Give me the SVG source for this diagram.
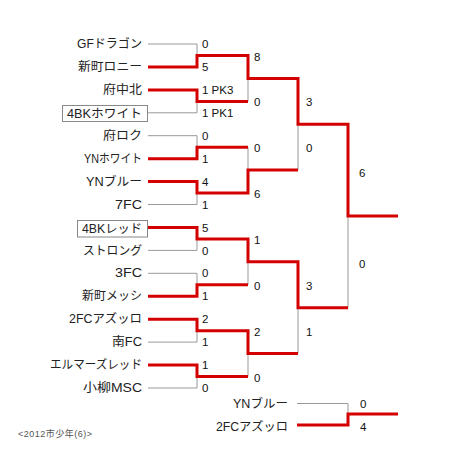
<svg xmlns="http://www.w3.org/2000/svg" width="450" height="450" viewBox="0 0 450 450">
<style>
.team{font-family:"Liberation Sans","Noto Sans CJK JP",sans-serif;font-size:12px;fill:#222;text-anchor:end}
.score{font-family:"Liberation Sans","Noto Sans CJK JP",sans-serif;font-size:11.5px;fill:#111}
.foot{font-family:"Liberation Sans","Noto Sans CJK JP",sans-serif;font-size:9px;fill:#555;letter-spacing:0.5px}
.grey{stroke:#999;stroke-width:1;fill:none}
.red{stroke:#d40000;stroke-width:3;fill:none;stroke-linejoin:miter}
.box{fill:#fff;stroke:#888;stroke-width:1}
</style>
<rect width="450" height="450" fill="#fff"/>
<g id="connectors">
<path class="grey" d="M148 44H197V66.9H148M148 89.9H197V112.8H148M148 135.7H197V158.7H148M148 181.6H197V204.5H148M148 227.4H197V250.4H148M148 273.3H197V296.2H148M148 319.2H197V342.1H148M148 365H197V388H148"/>
<path class="grey" d="M197 55.5H248V101.4H197M197 147.2H248V193.1H197M197 238.9H248V284.8H197M197 330.7H248V376.5H197"/>
<path class="grey" d="M248 78.4H298V170.1H248M248 261.8H298V353.6H248"/>
<path class="grey" d="M298 124.3H348V307.7H298M348 216H398"/>
<path class="grey" d="M297 403.5H348V425H297M348 414H398"/>
<path class="red" d="M148 66.9H197V55.5H248V78.4H298V124.3H348V216H398"/>
<path class="red" d="M148 89.9H197V101.4H248"/>
<path class="red" d="M148 158.7H197V147.2H248"/>
<path class="red" d="M148 181.6H197V193.1H248V170.1H298"/>
<path class="red" d="M148 227.4H197V238.9H248V261.8H298V307.7H348"/>
<path class="red" d="M148 296.2H197V284.8H248"/>
<path class="red" d="M148 319.2H197V330.7H248V353.6H298"/>
<path class="red" d="M148 365H197V376.5H248"/>
<path class="red" d="M297 425H348V414H398"/>
<g id="scores">
<text class="score" x="202" y="48">0</text>
<text class="score" x="202" y="71">5</text>
<text class="score" x="202" y="94">1 PK3</text>
<text class="score" x="202" y="117">1 PK1</text>
<text class="score" x="202" y="140">0</text>
<text class="score" x="202" y="163">1</text>
<text class="score" x="202" y="186">4</text>
<text class="score" x="202" y="209">1</text>
<text class="score" x="202" y="232">5</text>
<text class="score" x="202" y="255">0</text>
<text class="score" x="202" y="277">0</text>
<text class="score" x="202" y="300">1</text>
<text class="score" x="202" y="323">2</text>
<text class="score" x="202" y="346">1</text>
<text class="score" x="202" y="369">1</text>
<text class="score" x="202" y="392">0</text>
<text class="score" x="254" y="61">8</text>
<text class="score" x="254" y="106">0</text>
<text class="score" x="254" y="152">0</text>
<text class="score" x="254" y="198">6</text>
<text class="score" x="254" y="244">1</text>
<text class="score" x="254" y="290">0</text>
<text class="score" x="254" y="336">2</text>
<text class="score" x="254" y="382">0</text>
<text class="score" x="306" y="106">3</text>
<text class="score" x="306" y="152">0</text>
<text class="score" x="306" y="290">3</text>
<text class="score" x="306" y="336">1</text>
<text class="score" x="359" y="177">6</text>
<text class="score" x="359" y="268">0</text>
<text class="score" x="360" y="408">0</text>
<text class="score" x="360" y="431">4</text>
</g>
</g>
<g id="t1"><text class="team" x="142" y="48" textLength="65" lengthAdjust="spacingAndGlyphs">GFドラゴン</text></g>
<g id="t2"><text class="team" x="142" y="71" textLength="64" lengthAdjust="spacingAndGlyphs">新町ロニー</text></g>
<g id="t3"><text class="team" x="142" y="94" textLength="39" lengthAdjust="spacingAndGlyphs">府中北</text></g>
<g id="t4"><rect class="box" x="62.5" y="105.5" width="85" height="16"/><text class="team" x="142" y="117.5" textLength="75" lengthAdjust="spacingAndGlyphs">4BKホワイト</text></g>
<g id="t5"><text class="team" x="142" y="140" textLength="39" lengthAdjust="spacingAndGlyphs">府ロク</text></g>
<g id="t6"><text class="team" x="142" y="163" textLength="58" lengthAdjust="spacingAndGlyphs">YNホワイト</text></g>
<g id="t7"><text class="team" x="142" y="186" textLength="56" lengthAdjust="spacingAndGlyphs">YNブルー</text></g>
<g id="t8"><text class="team" x="142" y="209" textLength="27" lengthAdjust="spacingAndGlyphs">7FC</text></g>
<g id="t9"><rect class="box" x="77.5" y="220.5" width="70" height="16.5"/><text class="team" x="142" y="232.5" textLength="60" lengthAdjust="spacingAndGlyphs">4BKレッド</text></g>
<g id="t10"><text class="team" x="142" y="255" textLength="59" lengthAdjust="spacingAndGlyphs">ストロング</text></g>
<g id="t11"><text class="team" x="142" y="277" textLength="27" lengthAdjust="spacingAndGlyphs">3FC</text></g>
<g id="t12"><text class="team" x="142" y="300" textLength="60" lengthAdjust="spacingAndGlyphs">新町メッシ</text></g>
<g id="t13"><text class="team" x="142" y="323" textLength="73" lengthAdjust="spacingAndGlyphs">2FCアズッロ</text></g>
<g id="t14"><text class="team" x="142" y="346" textLength="30" lengthAdjust="spacingAndGlyphs">南FC</text></g>
<g id="t15"><text class="team" x="142" y="369" textLength="92" lengthAdjust="spacingAndGlyphs">エルマーズレッド</text></g>
<g id="t16"><text class="team" x="142" y="392" textLength="59" lengthAdjust="spacingAndGlyphs">小柳MSC</text></g>
<g id="t17"><text class="team" x="288" y="408" textLength="55" lengthAdjust="spacingAndGlyphs">YNブルー</text></g>
<g id="t18"><text class="team" x="288" y="431" textLength="72" lengthAdjust="spacingAndGlyphs">2FCアズッロ</text></g>
<g id="footer"><text class="foot" x="18" y="437">&lt;2012市少年(6)&gt;</text></g>
</svg>
